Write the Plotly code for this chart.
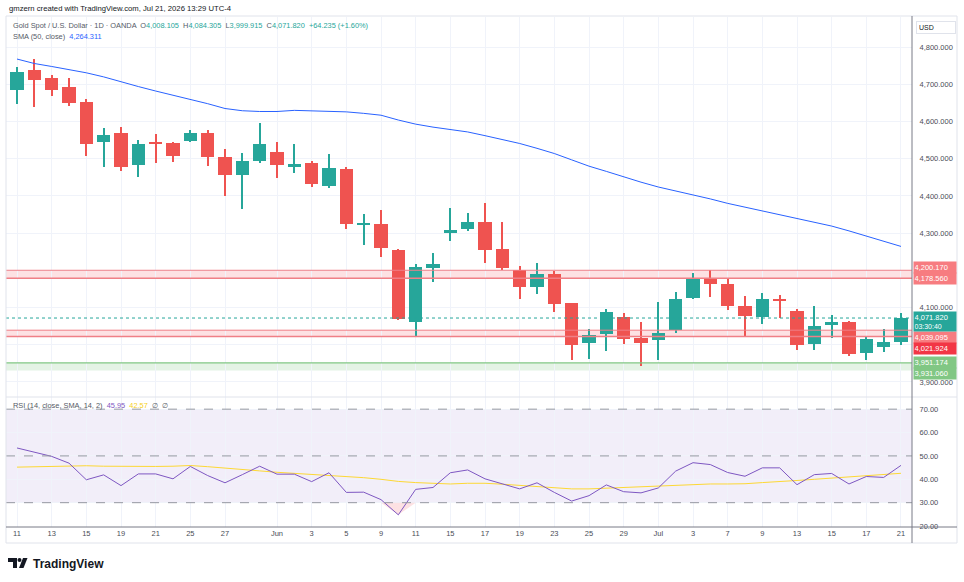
import pandas as pd
import plotly.graph_objects as go
from plotly.subplots import make_subplots

# Daily XAUUSD candles, May 11 - Jul 21 2026
dates = pd.bdate_range("2026-05-11", "2026-07-21").strftime("%Y-%m-%d").tolist()

opens = [4684, 4738, 4718, 4692, 4653, 4544, 4568, 4482, 4543, 4543, 4547, 4570, 4505,
         4455, 4495, 4519, 4479, 4488, 4427, 4473, 4321, 4324, 4254, 4060, 4207, 4300,
         4311, 4330, 4257, 4202, 4156, 4191, 4111, 4005, 4029, 4074, 4017, 4014, 4039,
         4125, 4178, 4164, 4104, 4074, 4124, 4090, 4001, 4052, 4061, 3977, 3995, 4008.105]
highs = [4747, 4769, 4724, 4717, 4661, 4583, 4586, 4551, 4567, 4545, 4578, 4578, 4526,
         4515, 4595, 4546, 4540, 4495, 4514, 4479, 4352, 4362, 4257, 4218, 4246, 4368,
         4354, 4381, 4329, 4211, 4221, 4197, 4113, 4043, 4095, 4084, 4062, 4115, 4142,
         4194, 4202, 4179, 4132, 4138, 4135, 4095, 4105, 4081, 4065, 4023, 4041, 4084.305]
lows = [4648, 4639, 4668, 4642, 4508, 4479, 4466, 4452, 4488, 4490, 4545, 4481, 4401,
        4366, 4488, 4447, 4463, 4425, 4422, 4312, 4268, 4236, 4066, 4023, 4169, 4279,
        4305, 4219, 4202, 4122, 4136, 4089, 3960, 3963, 3982, 4001, 3944, 3960, 4032,
        4122, 4128, 4093, 4021, 4055, 4073, 3987, 3985, 4018, 3971, 3960, 3981, 3999.915]
closes = [4733, 4712, 4686, 4650, 4539, 4564, 4479, 4540, 4540, 4507, 4568, 4504, 4455,
          4495, 4540, 4482, 4486, 4432, 4475, 4325, 4328, 4259, 4070, 4210, 4216, 4308,
          4330, 4255, 4207, 4155, 4191, 4110, 3998, 4027, 4088, 4015, 4006, 4032, 4122,
          4176, 4163, 4105, 4076, 4122, 4120, 4000, 4051, 4060, 3976, 4015, 4008, 4071.82]

sma50 = [4768, 4756, 4748, 4740, 4731, 4720, 4706, 4694, 4682, 4671, 4660, 4648, 4635,
         4629, 4627, 4627, 4630, 4629, 4628, 4626, 4622, 4617, 4604, 4593, 4585, 4578,
         4572, 4562, 4552, 4541, 4528, 4514, 4497, 4480, 4466, 4451, 4437, 4424, 4414,
         4403, 4392, 4380, 4370, 4359, 4350, 4341, 4331, 4319, 4306, 4292, 4278, 4264.311]

rsi = [53.4, 51.6, 49.8, 46.9, 39.8, 41.9, 37.3, 42.3, 42.3, 40.2, 45.5, 41.6, 38.5,
       42.0, 45.6, 42.2, 42.2, 39.0, 42.8, 34.4, 34.5, 31.3, 24.8, 35.7, 36.5, 42.8,
       44.0, 40.2, 38.0, 35.9, 38.5, 34.4, 30.7, 33.0, 37.6, 34.7, 34.2, 36.3, 43.5,
       47.1, 46.3, 42.9, 41.3, 44.9, 44.9, 37.7, 42.0, 42.5, 38.0, 41.2, 40.8, 45.95]
rsi_sma = [45.2, 45.4, 45.7, 45.9, 45.8, 45.6, 45.5, 45.5, 45.5, 45.6, 45.9, 45.4, 44.9,
           44.2, 43.6, 43.0, 42.6, 41.9, 41.6, 41.2, 40.7, 40.0, 39.1, 38.6, 38.2, 38.0,
           38.3, 38.3, 37.9, 37.4, 37.1, 36.5, 35.9, 35.9, 36.2, 36.6, 37.0, 37.3, 37.6,
           37.8, 38.0, 38.0, 38.1, 38.6, 39.2, 39.5, 40.0, 40.5, 40.9, 41.4, 42.0, 42.57]

# x axis labels
tick_dates = ["2026-05-11", "2026-05-13", "2026-05-15", "2026-05-19", "2026-05-21",
              "2026-05-25", "2026-05-27", "2026-06-01", "2026-06-03", "2026-06-05",
              "2026-06-09", "2026-06-11", "2026-06-15", "2026-06-17", "2026-06-19",
              "2026-06-23", "2026-06-25", "2026-06-29", "2026-07-01", "2026-07-03",
              "2026-07-07", "2026-07-09", "2026-07-13", "2026-07-15", "2026-07-17",
              "2026-07-21"]
tick_text = ["11", "13", "15", "19", "21", "25", "27", "Jun", "3", "5", "9", "11", "15",
             "17", "19", "23", "25", "29", "Jul", "3", "7", "9", "13", "15", "17", "21"]

# zones drawn on the chart
red_zone_1 = [4178.560, 4200.170]
red_zone_2 = [4021.924, 4039.095]
green_zone = [3931.060, 3951.174]
last_price = 4071.82

UP = "#26a69a"
DOWN = "#ef5350"
GRID = "#f0f3fa"
TXT = "#131722"
FONT = "Liberation Sans"

# helpers to place decorations by pixel (plot area is 6..912 x 17..527)
def px(x):
    return (x - 6) / 906

def py(y):
    return (527 - y) / 510

fig = make_subplots(rows=2, cols=1, shared_xaxes=True, vertical_spacing=0,
                    row_heights=[380, 130])

colors = [UP if c >= o else DOWN for o, c in zip(opens, closes)]

# wicks
fig.add_trace(go.Bar(x=dates, y=[h - l for h, l in zip(highs, lows)], base=lows,
                     width=0.07, marker=dict(color=colors, line=dict(width=0)),
                     hoverinfo="skip", showlegend=False), row=1, col=1)
# bodies
fig.add_trace(go.Bar(x=dates, y=[max(abs(c - o), 3) for o, c in zip(opens, closes)],
                     base=[min(o, c) for o, c in zip(opens, closes)],
                     width=0.76, marker=dict(color=colors, line=dict(width=0)),
                     customdata=list(zip(opens, highs, lows, closes)),
                     hovertemplate="O %{customdata[0]}<br>H %{customdata[1]}<br>"
                                   "L %{customdata[2]}<br>C %{customdata[3]}<extra></extra>",
                     showlegend=False), row=1, col=1)
# SMA 50
fig.add_trace(go.Scatter(x=dates, y=sma50, mode="lines", line=dict(color="#2962ff", width=1),
                         showlegend=False, hoverinfo="skip"), row=1, col=1)

# RSI panel: oversold fill, RSI and its SMA
fig.add_trace(go.Scatter(x=dates, y=[30] * len(dates), mode="lines", line=dict(width=0),
                         showlegend=False, hoverinfo="skip"), row=2, col=1)
fig.add_trace(go.Scatter(x=dates, y=[min(v, 30) for v in rsi], mode="lines", line=dict(width=0),
                         fill="tonexty", fillcolor="rgba(242,54,69,0.15)",
                         showlegend=False, hoverinfo="skip"), row=2, col=1)
fig.add_trace(go.Scatter(x=dates, y=rsi_sma, mode="lines", line=dict(color="#fdd835", width=1),
                         showlegend=False, hoverinfo="skip"), row=2, col=1)
fig.add_trace(go.Scatter(x=dates, y=rsi, mode="lines", line=dict(color="#7e57c2", width=1),
                         showlegend=False, hoverinfo="skip"), row=2, col=1)

# zones
for lo, hi in [red_zone_1, red_zone_2]:
    fig.add_shape(type="rect", xref="x domain", yref="y", x0=0, x1=1, y0=lo, y1=hi,
                  fillcolor="rgba(242,54,69,0.15)", line=dict(width=0), layer="below")
    fig.add_shape(type="line", xref="x domain", yref="y", x0=0, x1=1, y0=hi, y1=hi,
                  line=dict(color="#f07f86", width=1))
    fig.add_shape(type="line", xref="x domain", yref="y", x0=0, x1=1, y0=lo, y1=lo,
                  line=dict(color="#f07f86", width=1.5))
fig.add_shape(type="rect", xref="x domain", yref="y", x0=0, x1=1,
              y0=green_zone[0], y1=green_zone[1],
              fillcolor="rgba(76,175,80,0.15)", line=dict(width=0), layer="below")
fig.add_shape(type="line", xref="x domain", yref="y", x0=0, x1=1,
              y0=green_zone[1], y1=green_zone[1], line=dict(color="#81c784", width=1.2))
fig.add_shape(type="line", xref="x domain", yref="y", x0=0, x1=1,
              y0=last_price, y1=last_price, line=dict(color=UP, width=1, dash="dot"))

# RSI band and levels
fig.add_shape(type="rect", xref="x2 domain", yref="y2", x0=0, x1=1, y0=30, y1=70,
              fillcolor="rgba(126,87,194,0.1)", line=dict(width=0), layer="below")
for lvl in [70, 50, 30]:
    fig.add_shape(type="line", xref="x2 domain", yref="y2", x0=0, x1=1, y0=lvl, y1=lvl,
                  line=dict(color="#9598a1", width=1, dash="dash"))

# frame lines
fig.add_shape(type="rect", xref="paper", yref="paper", x0=px(6), x1=px(957), y0=py(543),
              y1=py(16), line=dict(color="#e0e3eb", width=1))
fig.add_shape(type="line", xref="paper", yref="paper", x0=px(6), x1=px(957), y0=py(397),
              y1=py(397), line=dict(color="#e0e3eb", width=1))
fig.add_shape(type="line", xref="paper", yref="paper", x0=px(6), x1=px(957), y0=py(527),
              y1=py(527), line=dict(color="#787b86", width=1))
fig.add_shape(type="line", xref="paper", yref="paper", x0=1, x1=1, y0=py(543),
              y1=py(16), line=dict(color="#787b86", width=1))

# header texts
def span(t, c):
    return f"<span style='color:{c}'>{t}</span>"

fig.add_annotation(xref="paper", yref="paper", x=px(7), y=py(8), xanchor="left", yanchor="middle",
                   text="gmzern created with TradingView.com, Jul 21, 2026 13:29 UTC-4",
                   showarrow=False, font=dict(size=7.7, color=TXT, family=FONT))
hdr = (span("Gold Spot / U.S. Dollar · 1D · OANDA", "#555a66") + "  "
       + span("O", "#555a66") + span("4,008.105", UP) + "  "
       + span("H", "#555a66") + span("4,084.305", UP) + "  "
       + span("L", "#555a66") + span("3,999.915", UP) + "  "
       + span("C", "#555a66") + span("4,071.820", UP) + "  "
       + span("+64.235 (+1.60%)", UP))
fig.add_annotation(xref="paper", yref="paper", x=px(11), y=py(25.5), xanchor="left",
                   yanchor="middle", text=hdr, showarrow=False,
                   font=dict(size=7.4, family=FONT))
fig.add_annotation(xref="paper", yref="paper", x=px(11), y=py(37), xanchor="left",
                   yanchor="middle",
                   text=span("SMA (50, close)", "#555a66") + "  " + span("4,264.311", "#2962ff"),
                   showarrow=False, font=dict(size=7.4, family=FONT))
fig.add_annotation(xref="paper", yref="paper", x=px(11), y=py(405), xanchor="left",
                   yanchor="middle",
                   text=span("RSI (14, close, SMA, 14, 2)", "#555a66") + "  "
                   + span("45.95", "#7e57c2") + "  " + span("42.57", "#f5d020") + "  "
                   + span("∅  ∅", "#555a66"),
                   showarrow=False, font=dict(size=7.4, family=FONT))

# USD box on the price scale
fig.add_annotation(xref="paper", yref="paper", x=px(916), y=py(27.5), xanchor="left",
                   yanchor="middle", text="USD", showarrow=False, align="left", width=34,
                   bordercolor="#e0e3eb", borderwidth=1, borderpad=2, bgcolor="white",
                   font=dict(size=7, color=TXT, family=FONT))

# price labels on the right scale
price_labels = [
    ("4,200.170", red_zone_1[1], "#f77c80", 2.5),
    ("4,178.560", red_zone_1[0], "#f77c80", -0.5),
    ("4,039.095", red_zone_2[1], "#f77c80", -7.5),
    ("4,021.924", red_zone_2[0], "#f23645", -12),
    ("3,951.174", green_zone[1], "#81c784", 0),
    ("3,931.060", green_zone[0], "#81c784", -3.5),
]
for txt, val, bg, shift in price_labels:
    fig.add_annotation(xref="paper", yref="y", x=1, y=val, xanchor="left", yanchor="middle",
                       xshift=1, yshift=shift, text=txt, showarrow=False, align="left",
                       width=41, height=10, bgcolor=bg, borderpad=0.5,
                       font=dict(size=7.5, color="white", family=FONT))
fig.add_annotation(xref="paper", yref="y", x=1, y=last_price, xanchor="left", yanchor="middle",
                   xshift=1, yshift=-3.5,
                   text="4,071.820<br><span style='font-size:7px'>03:30:40</span>",
                   showarrow=False, align="left", width=41, height=18, bgcolor=UP,
                   borderpad=0.5, font=dict(size=7.5, color="white", family=FONT))

# TradingView logo
fig.add_shape(type="path", xref="paper", yref="paper",
              path=f"M {px(8)} {py(558)} L {px(17)} {py(558)} L {px(17)} {py(568)} "
                   f"L {px(13)} {py(568)} L {px(13)} {py(562)} L {px(8)} {py(562)} Z",
              fillcolor="#131722", line=dict(width=0))
fig.add_shape(type="circle", xref="paper", yref="paper", x0=px(17.5), x1=px(21.5),
              y0=py(562), y1=py(558), fillcolor="#131722", line=dict(width=0))
fig.add_shape(type="path", xref="paper", yref="paper",
              path=f"M {px(23)} {py(558)} L {px(27.5)} {py(558)} L {px(23.5)} {py(568)} "
                   f"L {px(19)} {py(568)} Z",
              fillcolor="#131722", line=dict(width=0))
fig.add_annotation(xref="paper", yref="paper", x=px(31), y=py(563.5), xanchor="left",
                   yanchor="middle", text="<b>TradingView</b>", showarrow=False,
                   font=dict(size=12, color="#131722", family=FONT))

xrange = [-0.635, len(dates) - 1 + 0.635]
fig.update_xaxes(type="category", range=xrange, tickvals=tick_dates, ticktext=tick_text,
                 showgrid=True, gridcolor=GRID, gridwidth=1, zeroline=False,
                 tickfont=dict(size=7.5, color="#4a4d57", family=FONT), ticks="")
fig.update_xaxes(showticklabels=False, row=1, col=1)
fig.update_xaxes(showticklabels=True, row=2, col=1)

fig.update_yaxes(side="right", range=[3859.5, 4881], tickvals=list(range(3900, 4801, 100)),
                 ticktext=["3,900.000", "", "4,100.000", "", "4,300.000", "4,400.000",
                           "4,500.000", "4,600.000", "4,700.000", "4,800.000"],
                 showgrid=True, gridcolor=GRID, zeroline=False, ticks="outside", ticklen=5,
                 tickcolor="rgba(0,0,0,0)",
                 tickfont=dict(size=7.5, color="#4a4d57", family=FONT), row=1, col=1)
fig.update_yaxes(side="right", range=[19.6, 75.2], tickvals=[20, 30, 40, 50, 60, 70],
                 tickformat=".2f", showgrid=True, gridcolor=GRID, zeroline=False,
                 ticks="outside", ticklen=5, tickcolor="rgba(0,0,0,0)",
                 tickfont=dict(size=7.5, color="#4a4d57", family=FONT), row=2, col=1)

fig.update_layout(width=964, height=582, margin=dict(l=6, r=52, t=17, b=55),
                  paper_bgcolor="white", plot_bgcolor="white", barmode="overlay",
                  bargap=0, showlegend=False, font=dict(family=FONT, color=TXT))

# the page body has a default 8px margin; drop it so the figure sits at the window corner
fig.write_html("out.html", config={"displayModeBar": False},
               post_script="document.body.style.margin='0';")
